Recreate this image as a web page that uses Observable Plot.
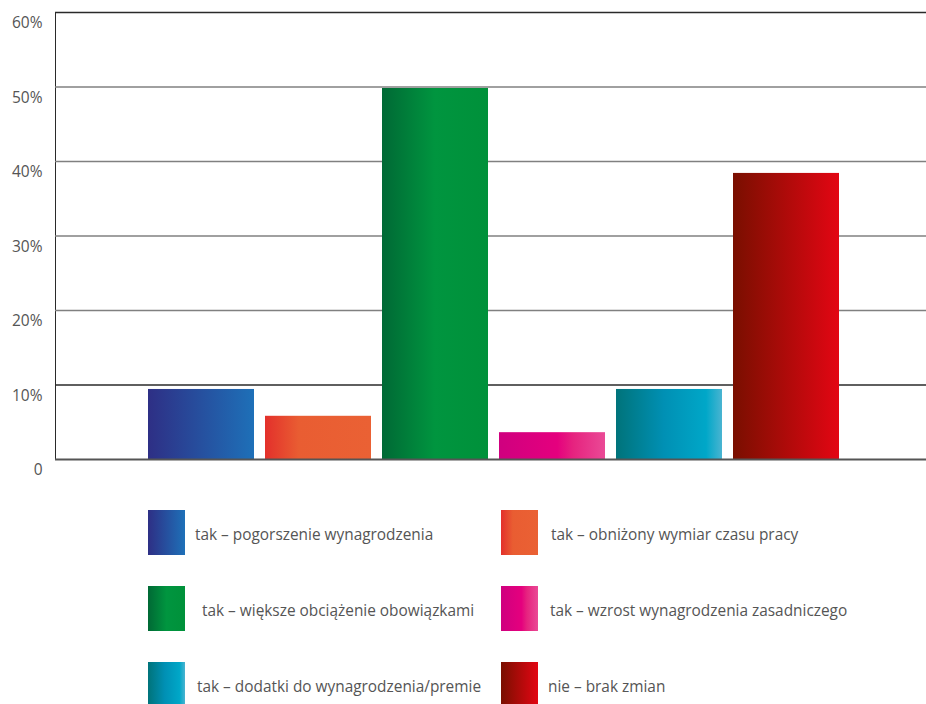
<!DOCTYPE html>
<html>
<head>
<meta charset="utf-8">
<script src="https://cdn.jsdelivr.net/npm/d3@7"></script>
<script src="https://cdn.jsdelivr.net/npm/@observablehq/plot@0.6"></script>
<style>
  html, body { margin: 0; padding: 0; background: #fff; }
  #wrap { position: relative; width: 926px; height: 704px; overflow: hidden; font-family: "Open Sans", sans-serif; }
  #chart { position: absolute; left: 0; top: 0; }
  .sw { position: absolute; width: 37px; height: 45px; }
  .lt { position: absolute; font-size: 15.4px; color: #555; line-height: 45px; white-space: nowrap; }
</style>
</head>
<body>
<div id="wrap"><div id="chart"></div><div id="legend"></div></div>
<script>
const categories = [
  "tak – pogorszenie wynagrodzenia",
  "tak – obniżony wymiar czasu pracy",
  "tak – większe obciążenie obowiązkami",
  "tak – wzrost wynagrodzenia zasadniczego",
  "tak – dodatki do wynagrodzenia/premie",
  "nie – brak zmian"
];
const values = [9.4, 5.8, 49.8, 3.6, 9.4, 38.4];
const yTicks = [0, 10, 20, 30, 40, 50, 60];
const gradients = [
  [[0, "#2e2f85"], [1, "#1e70b8"]],
  [[0, "#e3302b"], [0.32, "#e95d32"], [1, "#ea6134"]],
  [[0, "#006935"], [0.5, "#00953f"], [1, "#00913a"]],
  [[0, "#cf007f"], [0.55, "#e5007e"], [0.7, "#e6237f"], [1, "#ea4a96"]],
  [[0, "#00737a"], [0.45, "#0090b4"], [0.85, "#00a7c8"], [1, "#4ab4d1"]],
  [[0, "#790f00"], [1, "#e30613"]]
];
const gradIds = categories.map((c, i) => "grad" + i);

const data = categories.map((c, i) => ({category: c, value: values[i]}));

const plot = Plot.plot({
  width: 926,
  height: 480,
  marginLeft: 55,
  marginRight: 0,
  marginTop: 12,
  marginBottom: 21,
  style: {fontFamily: "Open Sans, sans-serif", background: "#fff", color: "#2a2a2a", overflow: "visible"},
  x: {domain: categories, range: [142.5, 844.5], paddingInner: 0.094, paddingOuter: 0.047, axis: null},
  y: {domain: [0, 60], axis: "left", line: true, ticks: [], tickSize: 0, tickFormat: () => "", label: null},
  color: {domain: categories, range: gradIds.map(id => `url(#${id})`)},
  marks: [
    Plot.ruleY(yTicks.filter(t => t > 0), {
      stroke: t => (t === 10 || t === 60) ? "#2a2a2a" : "#808080",
      strokeWidth: 1.4
    }),
    Plot.barY(data, {x: "category", y: "value", fill: "category"}),
    Plot.ruleY([0], {stroke: "#555", strokeWidth: 2}),
    Plot.text(yTicks, {
      y: d => d,
      frameAnchor: "left",
      dx: -13,
      dy: 11,
      textAnchor: "end",
      text: d => d === 0 ? "0" : d + "%",
      fontSize: 15.5,
      fill: "#555"
    })
  ]
});

// insert gradient defs
const svgNS = "http://www.w3.org/2000/svg";
const defs = document.createElementNS(svgNS, "defs");
gradients.forEach((stops, i) => {
  const lg = document.createElementNS(svgNS, "linearGradient");
  lg.setAttribute("id", gradIds[i]);
  lg.setAttribute("x1", "0"); lg.setAttribute("y1", "0");
  lg.setAttribute("x2", "1"); lg.setAttribute("y2", "0");
  stops.forEach(([o, c]) => {
    const s = document.createElementNS(svgNS, "stop");
    s.setAttribute("offset", o);
    s.setAttribute("stop-color", c);
    lg.appendChild(s);
  });
  defs.appendChild(lg);
});
plot.insertBefore(defs, plot.firstChild);
document.getElementById("chart").appendChild(plot);

// legend
const legendPos = [
  {sx: 148, y: 510, tx: 195}, {sx: 501, y: 510, tx: 551},
  {sx: 148, y: 586, tx: 202}, {sx: 501, y: 586, tx: 550},
  {sx: 148, y: 662, tx: 197}, {sx: 501, y: 662, tx: 548}
];
const legend = document.getElementById("legend");
categories.forEach((c, i) => {
  const p = legendPos[i];
  const sw = document.createElement("div");
  sw.className = "sw";
  sw.style.left = p.sx + "px";
  sw.style.top = p.y + "px";
  sw.style.background = "linear-gradient(to right, " + gradients[i].map(([o, col]) => col + " " + (o * 100) + "%").join(", ") + ")";
  legend.appendChild(sw);
  const t = document.createElement("div");
  t.className = "lt";
  t.style.left = p.tx + "px";
  t.style.top = (p.y + 2) + "px";
  t.textContent = c;
  legend.appendChild(t);
});
</script>
</body>
</html>
